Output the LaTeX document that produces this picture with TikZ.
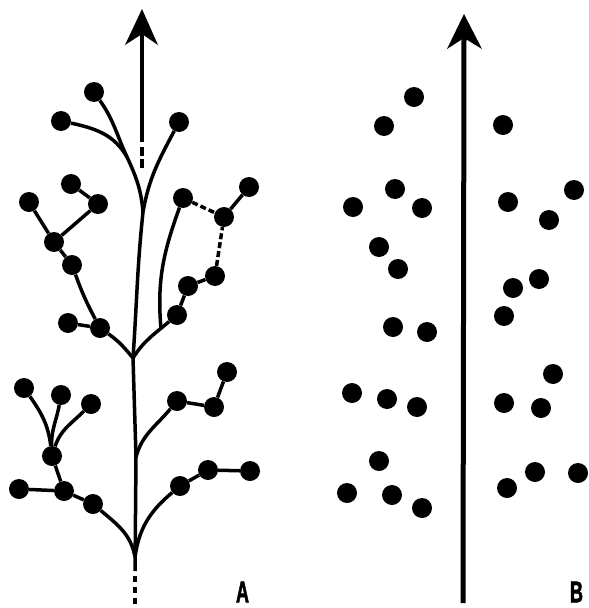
\documentclass[tikz,border=0pt]{standalone}
\usepackage{fontspec}
\setmainfont{Liberation Sans}
\newfontfamily\lblfont[BoldFeatures={FakeBold=2.5}]{Liberation Sans}
\begin{document}
\begin{tikzpicture}[x=1pt,y=1pt,
  dot/.style={circle, fill=black, inner sep=0pt, minimum size=20pt},
  branch/.style={line width=3.5pt},
  dashline/.style={line width=3.5pt, dash pattern=on 6pt off 3pt},
  shaft/.style={line width=4.5pt},
  lbl/.style={inner sep=0pt, font=\lblfont\bfseries\fontsize{30}{30}\selectfont, xscale=0.6}]
\useasboundingbox (0,0) rectangle (589,-608);
% ---------- panel A : coordinates of the stem ----------
\coordinate (jt) at (143,-212);
\coordinate (m1) at (127,-157);
\coordinate (j1) at (133,-358);
\coordinate (j2) at (136,-457);
\coordinate (j3) at (135,-557);
\coordinate (jb) at (135,-571);
\coordinate (jd) at (135,-576);
\coordinate (sEnd) at (135,-608);
\coordinate (rm) at (161,-329);
% arrow A
\coordinate (aTip) at (142,-9);
\coordinate (aL) at (125,-45);
\coordinate (aR) at (158,-45);
\coordinate (aN) at (142,-34);
\coordinate (aS) at (142,-142);
\coordinate (aD1) at (142,-147);
\coordinate (aD2) at (142,-168);
% dots, top
\node[dot] (t1) at (94,-92) {};
\node[dot] (t2) at (61,-121) {};
\node[dot] (t3) at (179,-122) {};
% dots, upper left
\node[dot] (L1) at (71,-184) {};
\node[dot] (L2) at (98,-204) {};
\node[dot] (L3) at (29,-202) {};
\node[dot] (L4) at (54,-242) {};
\node[dot] (L5) at (72,-265) {};
\node[dot] (L6) at (100,-328) {};
\node[dot] (L7) at (68,-323) {};
% dots, upper right
\node[dot] (R1) at (183,-198) {};
\node[dot] (R2) at (249,-187) {};
\node[dot] (R3) at (224,-217) {};
\node[dot] (R4) at (215,-276) {};
\node[dot] (R5) at (188,-286) {};
\node[dot] (R6) at (177,-315) {};
% dots, lower left
\node[dot] (B1) at (24,-388) {};
\node[dot] (B2) at (61,-395) {};
\node[dot] (B3) at (91,-404) {};
\node[dot] (B4) at (52,-456) {};
\node[dot] (B5) at (19,-489) {};
\node[dot] (B6) at (64,-491) {};
\node[dot] (B7) at (93,-504) {};
% dots, lower right
\node[dot] (C1) at (177,-401) {};
\node[dot] (C2) at (214,-407) {};
\node[dot] (C3) at (227,-372) {};
\node[dot] (C4) at (180,-486) {};
\node[dot] (C5) at (208,-470) {};
\node[dot] (C6) at (250,-471) {};
% arrow A
\fill (aTip) -- (aR) -- (aN) -- (aL) -- cycle;
\draw[shaft] (aN) -- (aS);
\draw[shaft, dash pattern=on 9pt off 3pt] (aD1) -- (aD2);
% stem
\draw[branch] (jt) to[out=-96,in=86] (j1) -- (j2) -- (jb);
\draw[branch, dash pattern=on 6pt off 5pt] (jd) -- (sEnd);
% top branches
\draw[branch] (t1) to[out=-55,in=115] (m1) to[out=-65,in=95] (jt);
\draw[branch] (t2) to[out=-12,in=120] (m1);
\draw[branch] (t3) to[out=-118,in=80] (jt);
% upper left
\draw[branch] (L1) -- (L2);
\draw[branch] (L2) -- (L4);
\draw[branch] (L3) -- (L4);
\draw[branch] (L4) -- (L5);
\draw[branch] (L5) to[bend right=4] (L6);
\draw[branch] (L7) -- (L6);
\draw[branch] (L6) to[out=-35,in=130] (j1);
% upper right
\draw[branch] (j1) to[out=58,in=-140] (R6);
\draw[branch] (rm) to[out=95,in=-110] (R1);
\draw[branch] (R6) -- (R5);
\draw[branch] (R5) -- (R4);
\draw[dashline] (R4) -- (R3);
\draw[dashline] (R1) -- (R3);
\draw[branch] (R3) -- (R2);
% lower left
\draw[branch] (B4) to[out=97,in=-55] (B1);
\draw[branch] (B4) to[out=92,in=-100] (B2);
\draw[branch] (B4) to[out=72,in=-135] (B3);
\draw[branch] (B4) -- (B6);
\draw[branch] (B5) -- (B6);
\draw[branch] (B6) -- (B7);
\draw[branch] (B7) to[out=-40,in=100] (j3);
% lower right
\draw[branch] (j2) to[out=75,in=-130] (C1);
\draw[branch] (C1) -- (C2);
\draw[branch] (C2) -- (C3);
\draw[branch] (j3) to[out=82,in=-140] (C4);
\draw[branch] (C4) -- (C5);
\draw[branch] (C5) -- (C6);
\node[lbl] (labA) at (242.5,-592) {A};
% ---------- panel B ----------
\coordinate (bTip) at (464,-14);
\coordinate (bL) at (447,-49);
\coordinate (bR) at (482,-49);
\coordinate (bN) at (464,-38);
\coordinate (bS) at (463,-603);
\fill (bTip) -- (bR) -- (bN) -- (bL) -- cycle;
\draw[shaft, line width=5pt] (bN) -- (bS);
\foreach \n/\x/\y in {p1/414/97, p2/384/126, p3/503/125, p4/395/189, p5/353/207,
  p6/422/208, p7/508/202, p8/574/190, p9/549/220, p10/379/247, p11/398/269,
  p12/539/279, p13/513/288, p14/504/316, p15/393/327, p16/427/332, p17/352/393,
  p18/387/399, p19/417/407, p20/553/374, p21/504/403, p22/541/408, p23/379/461,
  p24/347/493, p25/392/495, p26/422/508, p27/507/488, p28/535/472, p29/578/473}
  \node[dot] (\n) at (\x,-\y) {};
\node[lbl] (labB) at (576.5,-592) {B};
\end{tikzpicture}
\end{document}
